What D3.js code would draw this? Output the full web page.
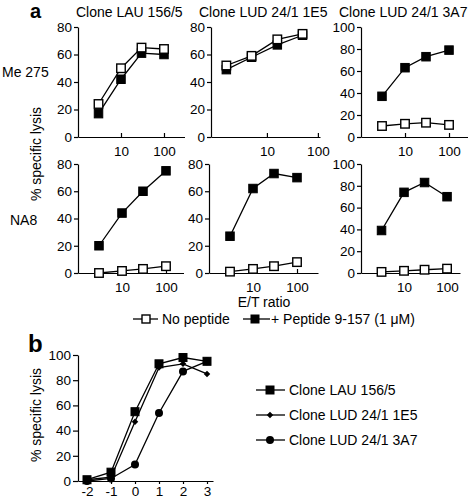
<!DOCTYPE html>
<html>
<head>
<meta charset="utf-8">
<script src="https://cdn.jsdelivr.net/npm/d3@7"></script>
<style>
body{margin:0;background:#fff}
svg{font-family:"Liberation Sans",Arial,Helvetica,sans-serif}
.axis path,.axis line{stroke:#000;stroke-width:1.2}
.axis text{font-size:13.5px;fill:#000;font-family:"Liberation Sans",Arial,sans-serif}
.lbl{font-size:14px;fill:#000}
</style>
</head>
<body>
<div class="chart"></div>
<script>
// panel a
const clones = ["Clone LAU 156/5", "Clone LUD 24/1 1E5", "Clone LUD 24/1 3A7"];
const targets = ["Me 275", "NA8"];
const etRatio = [3, 10, 30, 100];
const etRatioLudMe = [1.6, 5, 16, 50];   // Me 275 / LUD 24/1 1E5 run
const xTicksA = [10, 100];
const yMaxA = [80, 80, 100];
const me275NoPep = [[24, 50, 65, 64], [52, 59, 71, 75], [10, 12, 13, 11]];
const me275Pep   = [[17, 42, 61, 60], [49, 58, 67, 74], [37, 63, 73, 79]];
const na8NoPep   = [[0, 1.5, 3, 5], [1, 3, 5, 8], [1, 2, 3, 4]];
const na8Pep     = [[20, 44, 60, 75], [27, 62, 73, 70], [39, 74, 83, 70]];
const legendA = ["No peptide", "+ Peptide 9-157 (1 \u03bcM)"];

// panel b
const logConc = [-2, -1, 0, 1, 2, 3];
const bClones = ["Clone LAU 156/5", "Clone LUD 24/1 1E5", "Clone LUD 24/1 3A7"];
const lysisLAU = [1, 7, 55, 93, 98, 95];
const lysis1E5 = [1, 3, 47, 90, 93, 85];
const lysis3A7 = [0, 2, 13, 54, 87, 95];

let svg = d3.select(".chart")
            .append("svg")
            .attr("width", 468)
            .attr("height", 498);

// layout of the six small panels (pixels)
let rows = [{y0: 137, y1: 27, base: 77}, {y0: 273, y1: 164, base: 225}];
let xLayout = [
    [{domain: [1, 300], range: [78, 184.5]},
     {domain: [0.8, 110], range: [211, 320]},
     {domain: [1, 270], range: [361, 468]}],
    [{domain: [1, 250], range: [78, 183.5]},
     {domain: [1, 300], range: [209, 318]},
     {domain: [1, 200], range: [361, 460]}]
];
let noPep = [me275NoPep, na8NoPep];
let pep = [me275Pep, na8Pep];

function marker(g, kind, cx, cy, s) {
    if (kind == "open" || kind == "filled" || kind == "square") {
        g.append("rect")
         .attr("x", cx - s / 2).attr("y", cy - s / 2)
         .attr("width", s).attr("height", s)
         .attr("fill", kind == "open" ? "#fff" : "#000")
         .attr("stroke", "#000")
         .attr("stroke-width", kind == "open" ? 1.4 : 1);
    } else if (kind == "diamond") {
        g.append("path")
         .attr("d", `M${cx},${cy - s / 2}L${cx + s / 2},${cy}L${cx},${cy + s / 2}L${cx - s / 2},${cy}Z`)
         .attr("fill", "#000");
    } else {
        g.append("circle").attr("cx", cx).attr("cy", cy).attr("r", s / 2).attr("fill", "#000");
    }
}

rows.forEach(function(row, r) {
    clones.forEach(function(clone, c) {
        let lay = xLayout[r][c];
        let x = d3.scaleLog().domain(lay.domain).range(lay.range);
        let y = d3.scaleLinear().domain([0, yMaxA[c]]).range([row.y0, row.y1]);
        let g = svg.append("g");

        g.append("g")
         .attr("class", "axis")
         .attr("transform", "translate(0," + row.y0 + ")")
         .call(d3.axisBottom(x).tickValues(xTicksA).tickFormat(d => String(d))
                 .tickSize(-4).tickSizeOuter(0).tickPadding(9));
        g.append("g")
         .attr("class", "axis")
         .attr("transform", "translate(" + lay.range[0] + ",0)")
         .call(d3.axisLeft(y).tickValues(d3.range(0, yMaxA[c] + 1, 20))
                 .tickSize(4).tickSizeOuter(0).tickPadding(2));

        let ets = (r == 0 && c == 1) ? etRatioLudMe : etRatio;
        let line = d3.line().x((d, i) => x(ets[i])).y(d => y(d));
        [pep[r][c], noPep[r][c]].forEach(function(vals) {
            g.append("path").datum(vals)
             .attr("d", line).attr("fill", "none")
             .attr("stroke", "#000").attr("stroke-width", 1.3);
        });
        pep[r][c].forEach((v, i) => marker(g, "filled", x(ets[i]), y(v), 8.5));
        noPep[r][c].forEach((v, i) => marker(g, "open", x(ets[i]), y(v), 8.5));

        if (r == 0) {
            let tx = [76, 199, 339][c];
            svg.append("text").attr("class", "lbl").attr("x", tx).attr("y", 17).text(clone);
        }
    });
    svg.append("text").attr("class", "lbl")
       .attr("x", r == 0 ? 2 : 10).attr("y", row.base).text(targets[r]);
});

svg.append("text").attr("x", 30).attr("y", 18)
   .style("font-size", "20px").style("font-weight", "bold").text("a");
svg.append("text").attr("class", "lbl")
   .attr("transform", "translate(41,154)rotate(-90)")
   .attr("text-anchor", "middle").text("% specific lysis");
svg.append("text").attr("class", "lbl")
   .attr("x", 264).attr("y", 307).attr("text-anchor", "middle").text("E/T ratio");

// legend a
let legA = svg.append("g");
[[133, 158, 146, "open", 162], [243, 270, 255, "filled", 271]].forEach(function(d, i) {
    legA.append("line").attr("x1", d[0]).attr("x2", d[1]).attr("y1", 319).attr("y2", 319)
        .attr("stroke", "#000").attr("stroke-width", 1.3);
    marker(legA, d[3], d[2], 319, 8);
    legA.append("text").attr("class", "lbl").attr("x", d[4]).attr("y", 324).text(legendA[i]);
});

// panel b
let xb = d3.scaleLinear().domain([-2.375, 3.25]).range([78, 213]);
let yb = d3.scaleLinear().domain([0, 100]).range([481, 355]);
let gb = svg.append("g");
gb.append("g").attr("class", "axis")
  .attr("transform", "translate(0,481)")
  .call(d3.axisBottom(xb).tickValues(logConc).tickFormat(d => String(d))
          .tickSize(3).tickSizeOuter(0).tickPadding(2));
gb.append("g").attr("class", "axis")
  .attr("transform", "translate(78,0)")
  .call(d3.axisLeft(yb).tickValues(d3.range(0, 101, 20))
          .tickSize(5).tickSizeOuter(0).tickPadding(2));

let bSeries = [[lysisLAU, "square", 8], [lysis1E5, "diamond", 6.5], [lysis3A7, "circle", 8]];
let lineB = d3.line().x((d, i) => xb(logConc[i])).y(d => yb(d));
bSeries.forEach(function(s) {
    gb.append("path").datum(s[0]).attr("d", lineB).attr("fill", "none")
      .attr("stroke", "#000").attr("stroke-width", 1.3);
});
bSeries.forEach(function(s) {
    s[0].forEach((v, i) => marker(gb, s[1], xb(logConc[i]), yb(v), s[2]));
});

svg.append("text").attr("x", 28).attr("y", 352)
   .style("font-size", "24px").style("font-weight", "bold").text("b");
svg.append("text").attr("class", "lbl")
   .attr("transform", "translate(41,415)rotate(-90)")
   .attr("text-anchor", "middle").text("% specific lysis");

// legend b
bSeries.forEach(function(s, i) {
    let ly = 390 + i * 25;
    gb.append("line").attr("x1", 256).attr("x2", 285).attr("y1", ly).attr("y2", ly)
      .attr("stroke", "#000").attr("stroke-width", 1.3);
    marker(gb, s[1], 270, ly, s[2]);
    gb.append("text").attr("class", "lbl").attr("x", 289).attr("y", ly + 5).text(bClones[i]);
});
</script>
</body>
</html>
